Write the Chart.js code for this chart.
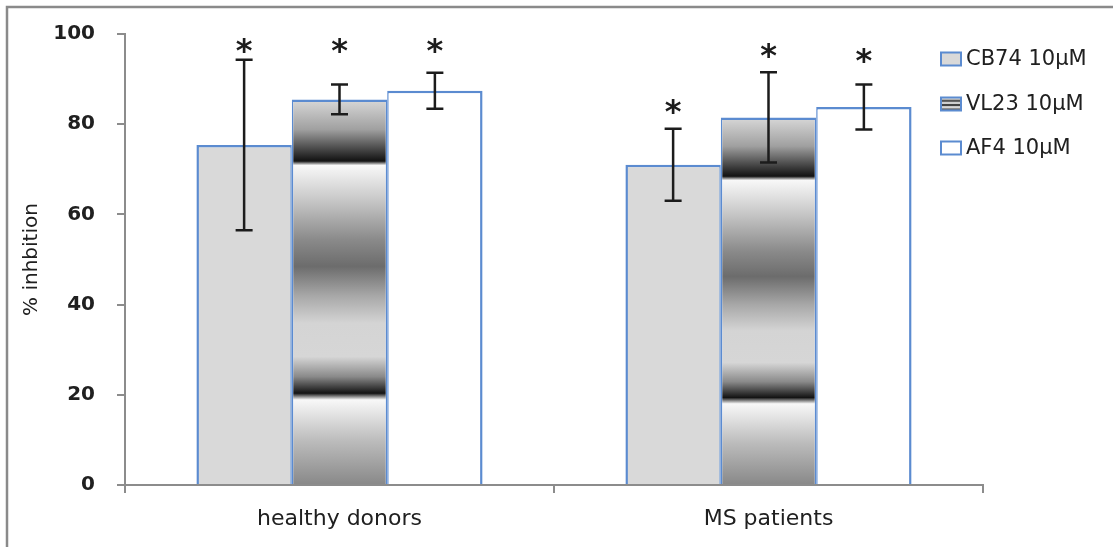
<!DOCTYPE html>
<html>
<head>
<meta charset="utf-8">
<script src="https://cdn.jsdelivr.net/npm/chart.js@4.4.1/dist/chart.umd.min.js"></script>
<style>
  html, body { margin: 0; padding: 0; background: #ffffff; }
  #wrap { position: relative; width: 1113px; height: 547px; }
  canvas { display: block; }
</style>
</head>
<body>
<div id="wrap"><canvas id="chart" width="1113" height="547"></canvas></div>
<script>
// Groups on the category axis
const groups = ['healthy donors', 'MS patients'];

// Compound names (legend)
const seriesNames = ['CB74 10µM', 'VL23 10µM', 'AF4 10µM'];

// Mean % inhibition per group
const cb74 = [75.4, 71.0];
const vl23 = [85.5, 81.5];
const af4 = [87.4, 83.8];

// Error bar half-lengths (± SD)
const cb74Err = [18.9, 8.0];
const vl23Err = [3.3, 10.0];
const af4Err = [4.0, 5.0];

// Level (in % inhibition) at which each significance asterisk sits
const cb74Star = [98.0, 84.5];
const vl23Star = [98.0, 96.9];
const af4Star = [98.0, 95.8];

// Value-axis tick labels
const yTicks = [0, 20, 40, 60, 80, 100];

// ---- styling ----
const FONT = 'DejaVu Sans';
const TEXT = '#202020';
const AXIS = '#8c8c8c';
const EDGE = '#5b8bd0';

// banded gray fill of the VL23 bars, stops as fractions of bar height from top
const bandStops = [
  [0.000, '#d8d8d8'], [0.078, '#a0a0a0'], [0.160, '#121212'], [0.171, '#f8f8f8'],
  [0.260, '#c8c8c8'], [0.364, '#8a8a8a'], [0.433, '#6c6c6c'], [0.510, '#a8a8a8'],
  [0.580, '#d4d4d4'], [0.667, '#d6d6d6'], [0.719, '#8a8a8a'], [0.762, '#141414'],
  [0.779, '#f8f8f8'], [0.883, '#bdbdbd'], [1.000, '#888888']
];

function bandFill(ctx) {
  const chart = ctx.chart;
  const y = chart.scales && chart.scales.y;
  if (!chart.chartArea || !y || ctx.dataIndex === undefined) return '#999999';
  const v = ctx.dataset.data[ctx.dataIndex];
  const top = y.getPixelForValue(v);
  const bottom = y.getPixelForValue(0);
  const g = chart.ctx.createLinearGradient(0, top, 0, bottom);
  bandStops.forEach(([o, c]) => g.addColorStop(o, c));
  return g;
}

// Error bars and significance asterisks, positioned from the bar elements and y scale
const whiskers = {
  id: 'whiskers',
  afterDatasetsDraw(chart) {
    const { ctx } = chart;
    const y = chart.scales.y;
    ctx.save();
    chart.data.datasets.forEach((ds, di) => {
      const meta = chart.getDatasetMeta(di);
      meta.data.forEach((bar, i) => {
        const v = ds.data[i];
        const e = ds.errors[i];
        const x = bar.x;
        const yTop = y.getPixelForValue(v + e);
        const yBot = y.getPixelForValue(v - e);
        ctx.strokeStyle = '#1c1c1c';
        ctx.lineWidth = 2.5;
        ctx.lineCap = 'butt';
        ctx.beginPath();
        ctx.moveTo(x, yTop); ctx.lineTo(x, yBot);
        ctx.moveTo(x - 8.5, yTop); ctx.lineTo(x + 8.5, yTop);
        ctx.moveTo(x - 8.5, yBot); ctx.lineTo(x + 8.5, yBot);
        ctx.stroke();

        const ys = y.getPixelForValue(ds.stars[i]);
        const size = 32;
        ctx.fillStyle = '#1c1c1c';
        ctx.font = `bold ${size}px "${FONT}"`;
        ctx.textAlign = 'center';
        ctx.textBaseline = 'alphabetic';
        ctx.fillText('*', x, ys + size * 0.56);
      });
    });
    ctx.restore();
  }
};

// Legend on the right with swatches matching each series fill
const sideLegend = {
  id: 'sideLegend',
  afterDraw(chart) {
    const { ctx } = chart;
    const x0 = 941, w = 20, h = 13;
    const rows = [59, 104, 148];
    ctx.save();
    chart.data.datasets.forEach((ds, di) => {
      const cy = rows[di];
      const top = cy - h / 2;
      if (di === 1) {
        const stripes = ['#dddddd', '#555555', '#cfcfcf', '#444444', '#d8d8d8', '#666666'];
        const sh = h / stripes.length;
        stripes.forEach((c, k) => { ctx.fillStyle = c; ctx.fillRect(x0, top + k * sh, w, sh + 0.5); });
      } else {
        ctx.fillStyle = di === 0 ? '#d9d9d9' : '#ffffff';
        ctx.fillRect(x0, top, w, h);
      }
      ctx.strokeStyle = EDGE;
      ctx.lineWidth = 2;
      ctx.strokeRect(x0, top, w, h);
      ctx.fillStyle = TEXT;
      ctx.font = `21px "${FONT}"`;
      ctx.textAlign = 'left';
      ctx.textBaseline = 'middle';
      ctx.fillText(ds.label, x0 + w + 5, cy + 1);
    });
    ctx.restore();
  }
};

// Outer frame along the left and top edges
const frame = {
  id: 'frame',
  beforeDraw(chart) {
    const { ctx } = chart;
    ctx.save();
    ctx.strokeStyle = '#8a8a8a';
    ctx.lineWidth = 2.5;
    ctx.beginPath();
    ctx.moveTo(7, 547); ctx.lineTo(7, 7); ctx.lineTo(1113, 7);
    ctx.stroke();
    ctx.restore();
  }
};

new Chart(document.getElementById('chart'), {
  type: 'bar',
  data: {
    labels: groups,
    datasets: [
      { label: seriesNames[0], data: cb74, errors: cb74Err, stars: cb74Star,
        backgroundColor: '#d9d9d9', borderColor: EDGE,
        borderWidth: { top: 2.5, left: 2.5, right: 1.5, bottom: 0 } },
      { label: seriesNames[1], data: vl23, errors: vl23Err, stars: vl23Star,
        backgroundColor: bandFill, borderColor: EDGE,
        borderWidth: { top: 2.5, left: 1.5, right: 1.5, bottom: 0 } },
      { label: seriesNames[2], data: af4, errors: af4Err, stars: af4Star,
        backgroundColor: '#ffffff', borderColor: EDGE,
        borderWidth: { top: 2.5, left: 1.5, right: 2.5, bottom: 0 } }
    ]
  },
  options: {
    responsive: false,
    animation: false,
    devicePixelRatio: 1,
    categoryPercentage: 0.667,
    barPercentage: 1.0,
    layout: { padding: { top: 34, right: 130, bottom: 0, left: 0 } },
    plugins: { legend: { display: false }, tooltip: { enabled: false } },
    scales: {
      x: {
        grid: { drawOnChartArea: false, drawTicks: true, tickLength: 8, color: AXIS, lineWidth: 2, offset: true },
        border: { display: true, color: AXIS, width: 2 },
        ticks: { font: { family: FONT, size: 22 }, color: TEXT, padding: 13 },
        afterFit(s) { s.height = 62; s.paddingLeft = 0; s.paddingRight = 0; }
      },
      y: {
        min: 0, max: 100,
        afterBuildTicks(s) { s.ticks = yTicks.map(v => ({ value: v })); },
        grid: { drawOnChartArea: false, drawTicks: true, tickLength: 8, color: AXIS, lineWidth: 2 },
        border: { display: true, color: AXIS, width: 2 },
        ticks: { font: { family: FONT, size: 20, weight: 'bold' }, color: TEXT, padding: 22 },
        title: { display: true, text: '% inhbition', font: { family: FONT, size: 20 }, color: TEXT,
                 padding: { top: 20, bottom: 0 } },
        afterFit(s) { s.width = 125; s.paddingTop = 0; s.paddingBottom = 0; }
      }
    }
  },
  plugins: [frame, whiskers, sideLegend]
});
</script>
</body>
</html>
